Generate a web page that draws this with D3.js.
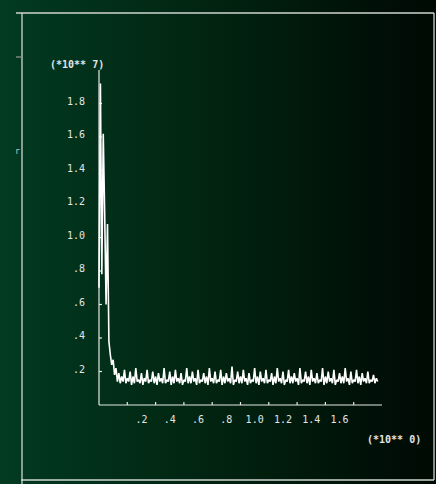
<!DOCTYPE html>
<html>
<head>
<meta charset="utf-8">
<script src="https://cdn.jsdelivr.net/npm/d3@7"></script>
<style>
  html, body { margin: 0; padding: 0; background: #000; }
  svg { display: block; }
</style>
</head>
<body>
<script>
const width = 436
const height = 484

// series, in units of 10**7, sampled every 0.01 along x
const xStep = 0.01
const values = [
  0.70, 1.92, 0.78, 1.62, 1.15, 0.60, 1.08, 0.38, 0.30, 0.24, 0.27, 0.18, 0.22, 0.14, 0.19,
  0.13, 0.17, 0.14, 0.21, 0.13, 0.16, 0.14, 0.20, 0.12, 0.17, 0.13, 0.22, 0.14, 0.15, 0.13, 0.19, 0.12, 0.16, 0.14, 0.21,
  0.13, 0.15, 0.14, 0.20, 0.13, 0.17, 0.12, 0.19, 0.14, 0.16, 0.13, 0.22, 0.13, 0.15, 0.14, 0.20, 0.12, 0.17, 0.13, 0.21,
  0.14, 0.16, 0.13, 0.19, 0.12, 0.15, 0.14, 0.22, 0.13, 0.17, 0.13, 0.20, 0.14, 0.16, 0.12, 0.21, 0.13, 0.15, 0.14, 0.19,
  0.13, 0.17, 0.12, 0.22, 0.14, 0.16, 0.13, 0.20, 0.13, 0.15, 0.14, 0.21, 0.12, 0.17, 0.13, 0.19, 0.14, 0.16, 0.13, 0.23,
  0.12, 0.15, 0.14, 0.20, 0.13, 0.17, 0.13, 0.21, 0.14, 0.16, 0.12, 0.19, 0.13, 0.15, 0.14, 0.22, 0.13, 0.17, 0.12, 0.20,
  0.14, 0.16, 0.13, 0.21, 0.13, 0.15, 0.14, 0.19, 0.12, 0.17, 0.13, 0.22, 0.14, 0.16, 0.13, 0.20, 0.12, 0.15, 0.14, 0.21,
  0.13, 0.17, 0.13, 0.19, 0.14, 0.16, 0.12, 0.22, 0.13, 0.15, 0.14, 0.20, 0.13, 0.17, 0.12, 0.21, 0.14, 0.16, 0.13, 0.19,
  0.13, 0.15, 0.14, 0.22, 0.12, 0.17, 0.13, 0.20, 0.14, 0.16, 0.13, 0.21, 0.12, 0.15, 0.14, 0.19, 0.13, 0.17, 0.13, 0.22,
  0.14, 0.16, 0.12, 0.20, 0.13, 0.15, 0.14, 0.21, 0.13, 0.17, 0.12, 0.19, 0.14, 0.16, 0.13, 0.20, 0.13, 0.15, 0.14, 0.18,
  0.13, 0.16, 0.14
]

const xTicks = [0.2, 0.4, 0.6, 0.8, 1.0, 1.2, 1.4, 1.6, 1.8]
const xTickLabels = ['.2', '.4', '.6', '.8', '1.0', '1.2', '1.4', '1.6']
const yTicks = [0.2, 0.4, 0.6, 0.8, 1.0, 1.2, 1.4, 1.6, 1.8]
const yTickLabels = ['.2', '.4', '.6', '.8', '1.0', '1.2', '1.4', '1.6', '1.8']
const yExponent = '(*10** 7)'
const xExponent = '(*10** 0)'

const colors = {
  frame: '#cfd6d2',
  axis: '#e4e8e6',
  line: '#ffffff',
  text: '#e2e6e3'
}

const svg = d3.select('body').append('svg')
  .attr('width', width)
  .attr('height', height)

const grad = svg.append('defs').append('linearGradient')
  .attr('id', 'bg')
  .attr('x1', 0).attr('x2', 1).attr('y1', 0).attr('y2', 0)
grad.append('stop').attr('offset', '0%').attr('stop-color', '#023a22')
grad.append('stop').attr('offset', '50%').attr('stop-color', '#01230f')
grad.append('stop').attr('offset', '90%').attr('stop-color', '#000e07')
grad.append('stop').attr('offset', '100%').attr('stop-color', '#000a03')

svg.append('rect')
  .attr('width', width).attr('height', height)
  .attr('fill', 'url(#bg)')

// outer frame
const frame = svg.append('g').attr('stroke', colors.frame).attr('stroke-width', 1.3)
frame.append('line').attr('x1', 16).attr('x2', 434).attr('y1', 13).attr('y2', 13)
frame.append('line').attr('x1', 22).attr('x2', 22).attr('y1', 13).attr('y2', 484)
frame.append('line').attr('x1', 434).attr('x2', 434).attr('y1', 13).attr('y2', 480)
frame.append('line').attr('x1', 21).attr('x2', 434).attr('y1', 480).attr('y2', 480)
frame.append('line').attr('x1', 16).attr('x2', 22).attr('y1', 57).attr('y2', 57)
  .attr('stroke', '#8a948f')

svg.append('text')
  .attr('x', 15).attr('y', 154)
  .attr('font-family', 'DejaVu Sans Mono').attr('font-size', 8)
  .attr('fill', '#c8cec9')
  .text('r')

const x = d3.scaleLinear().domain([0, 2.0]).range([99, 382])
const y = d3.scaleLinear().domain([0, 2.0]).range([405, 70])

// axes
const axes = svg.append('g').attr('stroke', colors.axis).attr('stroke-width', 1.2)
axes.append('line').attr('x1', x(0)).attr('x2', x(0)).attr('y1', y(2.0)).attr('y2', y(0))
axes.append('line').attr('x1', x(0)).attr('x2', x(2.0)).attr('y1', y(0)).attr('y2', y(0))

axes.selectAll('.ytick').data(yTicks).enter().append('line')
  .attr('class', 'ytick')
  .attr('x1', x(0)).attr('x2', x(0) + 3)
  .attr('y1', d => y(d)).attr('y2', d => y(d))

axes.selectAll('.xtick').data(xTicks).enter().append('line')
  .attr('class', 'xtick')
  .attr('x1', d => x(d)).attr('x2', d => x(d))
  .attr('y1', y(0)).attr('y2', y(0) - 3)

const font = { family: 'DejaVu Sans Mono', size: 10 }

svg.selectAll('.ylabel').data(yTicks).enter().append('text')
  .attr('class', 'ylabel')
  .attr('x', 85)
  .attr('y', d => y(d) - 2)
  .attr('text-anchor', 'end')
  .attr('dominant-baseline', 'middle')
  .attr('font-family', font.family).attr('font-size', font.size)
  .attr('fill', colors.text)
  .text((d, i) => yTickLabels[i])

svg.selectAll('.xlabel').data(xTickLabels).enter().append('text')
  .attr('class', 'xlabel')
  .attr('x', (d, i) => x(xTicks[i] + 0.1))
  .attr('y', 420)
  .attr('text-anchor', 'middle')
  .attr('dominant-baseline', 'middle')
  .attr('font-family', font.family).attr('font-size', font.size)
  .attr('fill', colors.text)
  .text(d => d)

svg.append('text')
  .attr('x', 50).attr('y', 65)
  .attr('dominant-baseline', 'middle')
  .attr('font-family', font.family).attr('font-size', font.size)
  .attr('font-weight', 'bold')
  .attr('fill', colors.text)
  .text(yExponent)

svg.append('text')
  .attr('x', 367).attr('y', 440)
  .attr('dominant-baseline', 'middle')
  .attr('font-family', font.family).attr('font-size', font.size)
  .attr('font-weight', 'bold')
  .attr('fill', colors.text)
  .text(xExponent)

// the series
const line = d3.line()
  .x((d, i) => x(i * xStep))
  .y(d => y(d))

svg.append('path')
  .datum(values)
  .attr('d', line)
  .attr('fill', 'none')
  .attr('stroke', colors.line)
  .attr('stroke-width', 1.6)
  .attr('stroke-linejoin', 'bevel')
</script>
</body>
</html>
